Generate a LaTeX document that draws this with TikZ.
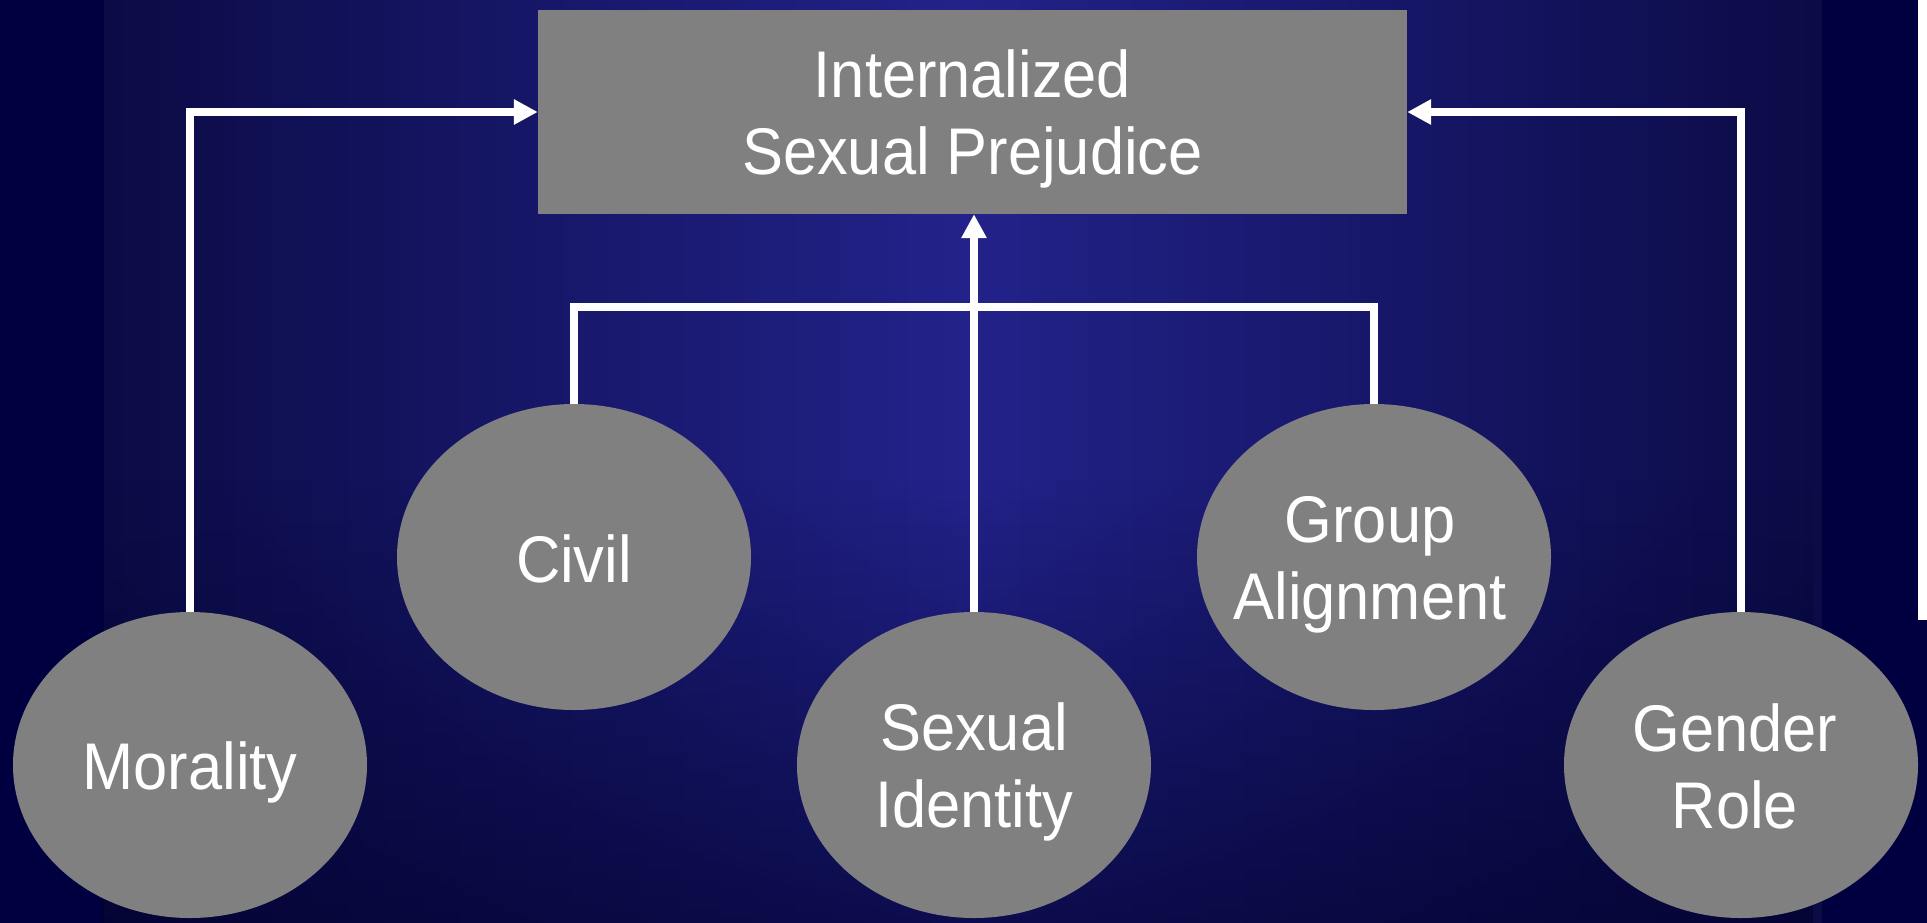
\documentclass[tikz,border=0pt]{standalone}
\usepackage{fontspec}
\setmainfont{Liberation Sans}
\newfontfamily\labelfont[FakeStretch=0.93]{Liberation Sans}
\usetikzlibrary{arrows.meta,shapes.geometric,fadings}
\definecolor{bandnavy}{HTML}{000040}
\definecolor{edgenavy}{HTML}{0B0B46}
\definecolor{midnavy}{HTML}{22228A}
\definecolor{shadenavy}{HTML}{00002A}
\definecolor{boxgray}{HTML}{808080}
\tikzfading[name=fadedown, top color=transparent!100, bottom color=transparent!0]
\newcommand{\mystrut}{\rule[-12pt]{0pt}{74pt}}
\tikzset{
  boxshape/.style={fill=boxgray, draw=none, rectangle, inner sep=0pt,
    minimum width=869pt, minimum height=204pt},
  ellshape/.style={fill=boxgray, draw=none, ellipse, inner sep=0pt,
    minimum width=354pt, minimum height=306pt},
  labeltext/.style={text=white, align=center, inner sep=0pt,
    font=\labelfont\fontsize{66}{77}\selectfont},
  conn/.style={draw=white, line width=8pt},
  arrowtip/.style={-{Triangle[width=24pt,length=24pt]}}
}
\begin{document}
\begin{tikzpicture}[x=1pt,y=-1pt]
\useasboundingbox (0,0) rectangle (1927,922);
\clip (0,0) rectangle (1927,922);
% background
\fill[bandnavy] (-2,-2) rectangle (1929,924);
\shade[left color=edgenavy, right color=edgenavy, middle color=midnavy] (104,-2) rectangle (1822,924);
\fill[shadenavy, fill opacity=0.62, path fading=fadedown] (104,480) rectangle (1822,924);
\fill[white] (1918,-2) rectangle (1929,620);
% nodes
\node[boxshape] (box) at (972.5,112) {};
\node[labeltext] (title) at (box.center) {\mystrut Internalized\\\mystrut Sexual Prejudice};
\node[ellshape] (morality) at (190,765) {};
\node[ellshape] (civil) at (574,557) {};
\node[ellshape] (sexid) at (974,765) {};
\node[ellshape] (group) at (1374,557) {};
\node[ellshape] (gender) at (1741,765) {};
\node[labeltext] (moralityt) at (morality.center) {\mystrut Morality};
\node[labeltext] (civilt) at (civil.center) {\mystrut Civil};
\node[labeltext] (sexidt) at (sexid.center) {\mystrut Sexual\\\mystrut Identity};
\node[labeltext] (groupt) at ([xshift=-4pt]group.center) {\mystrut Group\\\mystrut Alignment};
\node[labeltext] (gendert) at ([xshift=-6pt]gender.center) {\mystrut Gender\\\mystrut Role};
% connectors
\coordinate (bar) at (974,307);
\draw[conn] (civil.north) |- (bar) -| (group.north);
\draw[conn, arrowtip] (sexid.north) -- (sexid.north |- box.south);
\draw[conn, arrowtip] (morality.north) |- (box.west);
\draw[conn, arrowtip] (gender.north) |- (box.east);
\end{tikzpicture}
\end{document}
